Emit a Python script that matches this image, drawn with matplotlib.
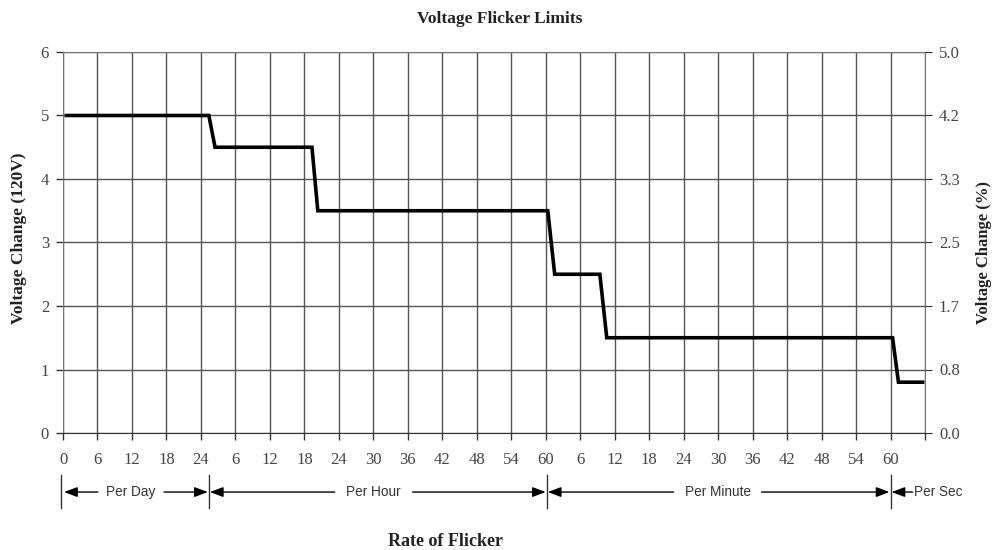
import matplotlib
matplotlib.use("Agg")
import matplotlib.pyplot as plt
import matplotlib.transforms as mtransforms

# ---- data (x in grid-position units: one unit per tick) ----
x_labels = ["0", "6", "12", "18", "24",
            "6", "12", "18", "24", "30", "36", "42", "48", "54", "60",
            "6", "12", "18", "24", "30", "36", "42", "48", "54", "60", ""]
step_x = [0.1, 4.23, 4.41, 7.22, 7.39, 14.06, 14.26, 15.57, 15.77, 24.06, 24.23, 24.93]
step_y = [5.0, 5.0, 4.5, 4.5, 3.5, 3.5, 2.5, 2.5, 1.5, 1.5, 0.8, 0.8]
y_ticks = [0, 1, 2, 3, 4, 5, 6]
pct_labels = [f"{v / 1.2:.1f}" for v in y_ticks]

# bracket annotations
ranges = ["Per Day", "Per Hour", "Per Minute"]
range_start = [0.0, 4.23, 14.03]
range_end = [4.23, 14.03, 24.0]
gap_left = [1.01, 7.88, 17.71]
gap_right = [2.93, 10.14, 20.26]
text_x = [1.97, 9.01, 18.985]
sec_label = "Per Sec"

serif = ["Liberation Serif", "DejaVu Serif"]
sans = ["Liberation Sans", "DejaVu Sans"]

fig = plt.figure(figsize=(9.93, 5.5), dpi=100)
ax = fig.add_axes([63 / 993, 1 - 433 / 550, (925 - 63) / 993, (433 - 52) / 550])

ax.set_xlim(0, 25)
ax.set_ylim(0, 6)
ax.set_xticks(range(len(x_labels)))
ax.set_xticklabels(x_labels)
ax.set_yticks(y_ticks)
ax.grid(True, color="#555555", linewidth=1.0)
ax.set_axisbelow(True)
for s in ["top", "left", "right"]:
    ax.spines[s].set_color("#777777")
ax.spines["bottom"].set_color("#333333")
ax.tick_params(axis="both", colors="#333333", labelsize=12, length=5, width=1)
ax.tick_params(axis="x", direction="out", pad=9)
ax.tick_params(axis="y", pad=5)
for lab in ax.get_xticklabels() + ax.get_yticklabels():
    lab.set_family(serif)
    lab.set_color("#444444")

ax.plot(step_x, step_y, color="black", linewidth=2.6, solid_joinstyle="miter", zorder=5)

ax2 = ax.twinx()
ax2.set_ylim(0, 6)
ax2.set_yticks(y_ticks)
ax2.set_yticklabels(pct_labels)
ax2.tick_params(axis="y", colors="#333333", labelsize=12, length=5, pad=5)
for lab in ax2.get_yticklabels():
    lab.set_family(serif)
    lab.set_color("#444444")
for s in ["top", "left", "right", "bottom"]:
    ax2.spines[s].set_visible(False)

fig.text(500 / 993, 1 - 19 / 550, "Voltage Flicker Limits", family=serif,
         fontweight="bold", fontsize=12.5, ha="center", va="center", color="#222222")
fig.text(446 / 993, 1 - 541 / 550, "Rate of Flicker", family=serif,
         fontweight="bold", fontsize=13, ha="center", va="center", color="#222222")
fig.text(19 / 993, 1 - 238 / 550, "Voltage Change (120V)", family=serif,
         fontweight="bold", fontsize=12.5, rotation=90, ha="center", va="center", color="#222222")
fig.text(984 / 993, 1 - 252 / 550, "Voltage Change (%)", family=serif,
         fontweight="bold", fontsize=12, rotation=90, ha="center", va="center", color="#222222")

# brackets below axis
trans = mtransforms.blended_transform_factory(ax.transData, ax.transAxes)
ya = -0.155
bar_lo, bar_hi = -0.197, -0.110
arrow_kw = dict(arrowstyle="-|>,head_length=0.8,head_width=0.3", color="black",
                lw=1.0, shrinkA=0, shrinkB=0, mutation_scale=10)
for b in [-0.06] + range_start[1:] + [range_end[-1]]:
    ax.plot([b, b], [bar_lo, bar_hi], color="#333333", lw=1.0, transform=trans,
            clip_on=False)
for lab, a, b, gl, gr, tx in zip(ranges, range_start, range_end, gap_left, gap_right, text_x):
    ax.annotate("", xy=(a + 0.03, ya), xytext=(gl, ya), xycoords=trans, textcoords=trans,
                arrowprops=arrow_kw, annotation_clip=False)
    ax.annotate("", xy=(b - 0.03, ya), xytext=(gr, ya), xycoords=trans, textcoords=trans,
                arrowprops=arrow_kw, annotation_clip=False)
    ax.text(tx, ya, lab, transform=trans, ha="center", va="center", family=sans,
            fontsize=9.8, color="#333333", clip_on=False)
ax.annotate("", xy=(range_end[-1] + 0.03, ya), xytext=(24.64, ya), xycoords=trans,
            textcoords=trans, arrowprops=arrow_kw, annotation_clip=False)
ax.text(24.68, ya, sec_label, transform=trans, ha="left", va="center", family=sans,
        fontsize=9.8, color="#333333", clip_on=False)

fig.savefig("out.png", dpi=100)
